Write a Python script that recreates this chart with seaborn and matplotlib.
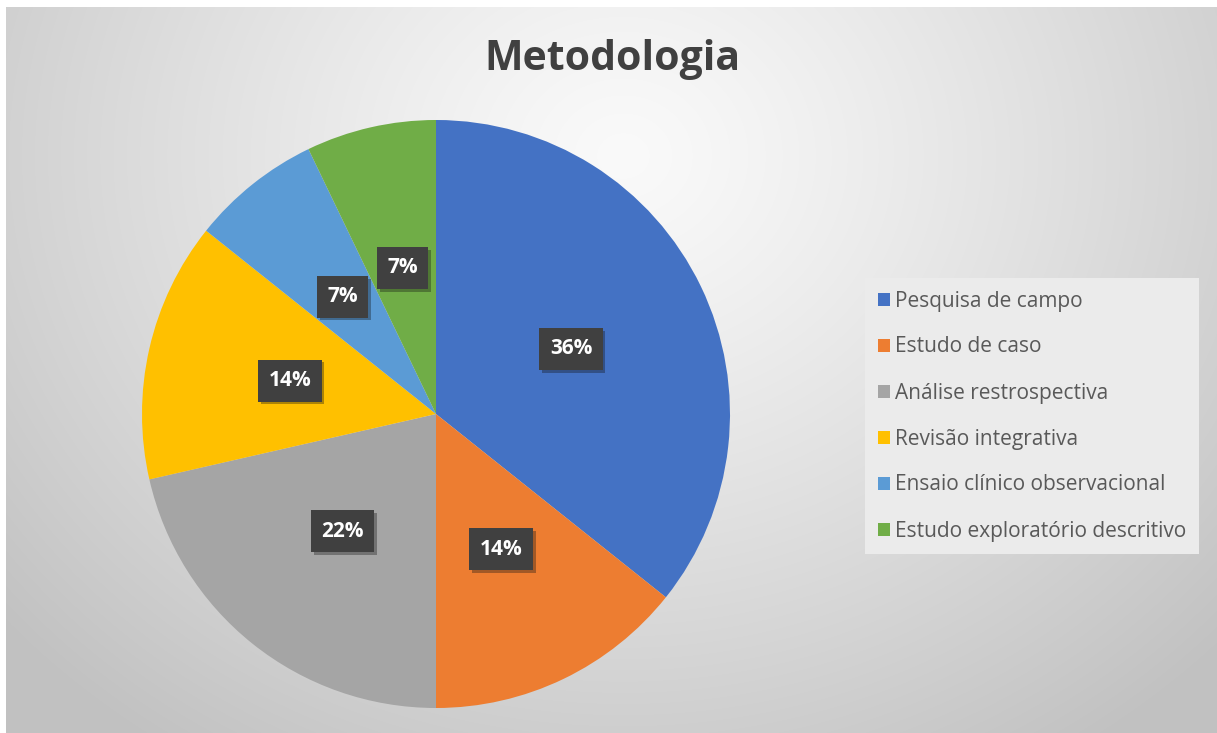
import numpy as np
import matplotlib
matplotlib.use("Agg")
import matplotlib.pyplot as plt
import matplotlib.patheffects as pe
import seaborn as sns

categories = ["Pesquisa de campo", "Estudo de caso", "Análise restrospectiva",
              "Revisão integrativa", "Ensaio clínico observacional",
              "Estudo exploratório descritivo"]
counts = [5, 2, 3, 2, 1, 1]
pct_labels = ["36%", "14%", "22%", "14%", "7%", "7%"]
colors = ["#4472C4", "#ED7D31", "#A5A5A5", "#FFC000", "#5B9BD5", "#70AD47"]
title = "Metodologia"

sns.set_theme(style="white")
plt.rcParams['font.family'] = ['Open Sans', 'DejaVu Sans']

W, H = 1217, 733
fig = plt.figure(figsize=(W / 100, H / 100), dpi=100)
fig.patch.set_facecolor("white")

# background gradient panel
bg = fig.add_axes([6 / W, 0, 1 - 6 / W, 1 - 7 / H])
bg.set_axis_off()
yy, xx = np.mgrid[0:H, 0:W]
d = np.sqrt(((xx - 620) / 820.0) ** 2 + ((yy - 150) / 720.0) ** 2)
d = np.clip(d, 0, 1)
val = 0.98 - 0.22 * d ** 1.2
img = np.dstack([val, val, val])
bg.imshow(img, aspect="auto", extent=[0, 1, 0, 1], origin="upper")
bg.set_xlim(0, 1)
bg.set_ylim(0, 1)

# pie axes
cx, cy, r = 436, 414, 294
ax = fig.add_axes([(cx - r) / W, 1 - (cy + r) / H, 2 * r / W, 2 * r / H])
ax.set_facecolor("none")
wedges, _ = ax.pie(counts, colors=colors, startangle=90, counterclock=False,
                   radius=1, wedgeprops=dict(linewidth=0))
ax.set_xlim(-1, 1)
ax.set_ylim(-1, 1)
ax.set_axis_off()

total = sum(counts)
cum = 0
for v, lab in zip(counts, pct_labels):
    mid = (cum + v / 2) / total
    cum += v
    ang = np.deg2rad(90 - 360 * mid)
    rr = 0.51
    t = ax.text(rr * np.cos(ang), rr * np.sin(ang), lab, ha="center", va="center",
                color="white", fontsize=15, fontweight="bold",
                bbox=dict(boxstyle="square,pad=0.5", fc="#404040", ec="none"))
    t.get_bbox_patch().set_path_effects([pe.SimplePatchShadow(offset=(2, -2), alpha=0.35), pe.Normal()])

fig.text(612 / W, 1 - 60 / H, title, ha="center", va="center", fontsize=29.5,
         fontweight="bold", color="#404040")

handles = [plt.Rectangle((0, 0), 1, 1, fc=c, ec="none") for c in colors]
leg = fig.legend(handles, categories, loc="upper left",
                 bbox_to_anchor=(865 / W, 1 - 278 / H), frameon=True,
                 fancybox=False, fontsize=15, handlelength=0.6, handleheight=0.6,
                 handletextpad=0.25, labelspacing=1.2, borderpad=0.6,
                 borderaxespad=0, labelcolor="#595959")
leg.get_frame().set_facecolor("#ebebeb")
leg.get_frame().set_edgecolor("none")
leg.get_frame().set_alpha(1)

fig.savefig("out.png", dpi=100)
